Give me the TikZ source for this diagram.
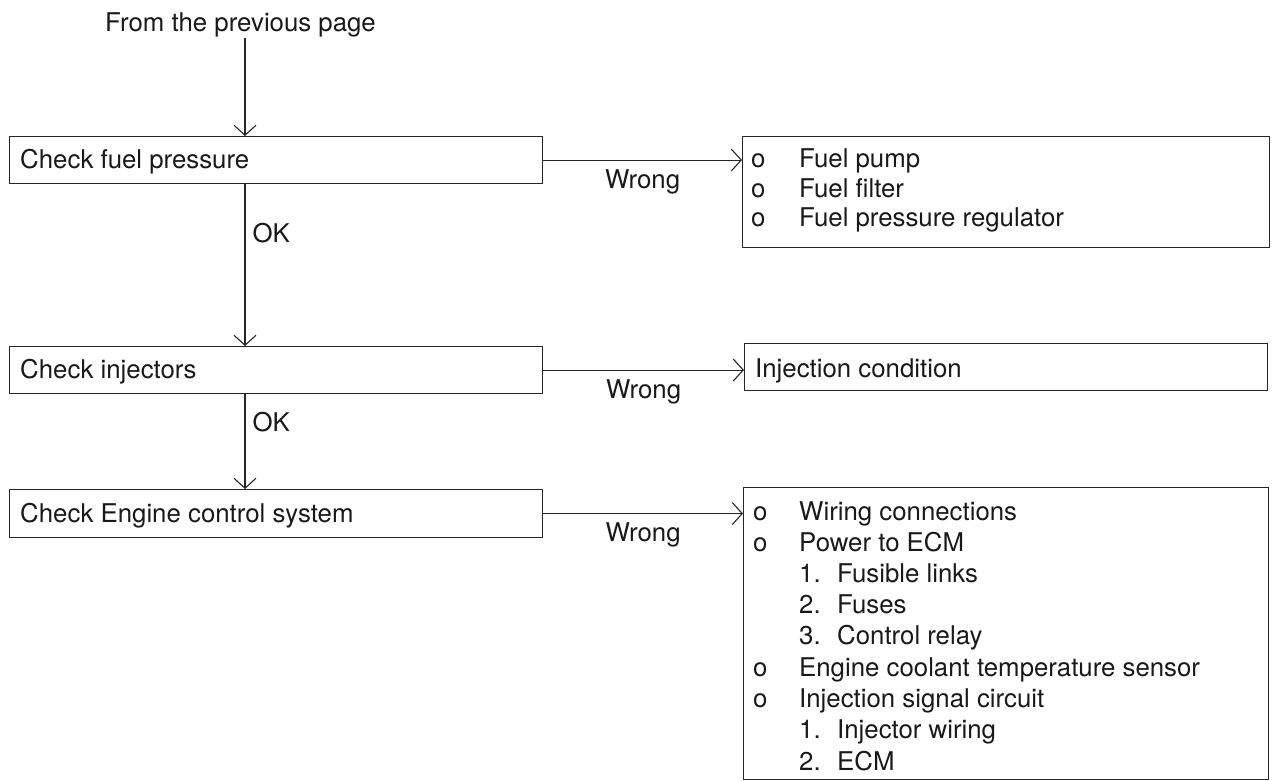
\documentclass[tikz,border=0pt]{standalone}
\usepackage{fontspec}
\setmainfont{TeX Gyre Heros}
\usetikzlibrary{arrows.meta}
\begin{document}
\begin{tikzpicture}[x=1pt,y=-1pt,
  every node/.style={font=\fontsize{25.8}{31}\selectfont, inner sep=0pt, text=black!90},
  box/.style={draw=black!85, line width=1.1pt, anchor=north west},
  arr/.style={draw=black!85, line width=1.1pt, -{Straight Barb[length=10pt,width=22pt,line width=1.1pt]}},
  lbl/.style={anchor=base west},
  oklbl/.style={pos=0.3, anchor=west, xshift=7pt},
  wronglbl/.style={pos=0.5, anchor=base, yshift=-28pt},
]
\useasboundingbox (0,0) rectangle (1276,781);

% left boxes
\node[box, minimum width=533pt, minimum height=47pt] (b1) at (9,136) {};
\node[box, minimum width=533pt, minimum height=47pt] (b2) at (9,346) {};
\node[box, minimum width=533pt, minimum height=48pt] (b3) at (9,489) {};
% right boxes
\node[box, minimum width=527pt, minimum height=111pt] (r1) at (742,136) {};
\node[box, minimum width=523pt, minimum height=47pt] (r2) at (744,343) {};
\node[box, minimum width=525pt, minimum height=292pt] (r3) at (743,487) {};

% texts
\node[lbl] (from) at (105,32) {From the previous page};
\node[lbl] (t1) at (20,168) {Check fuel pressure};
\node[lbl] (t2) at (20,378) {Check injectors};
\node[lbl] (t3) at (20,522) {Check Engine control system};

\node[lbl] (r1a) at (751,167) {\makebox[48pt][l]{o}Fuel pump};
\node[lbl] (r1b) at (751,197) {\makebox[48pt][l]{o}Fuel filter};
\node[lbl] (r1c) at (751,226) {\makebox[48pt][l]{o}Fuel pressure regulator};

\node[lbl] (r2a) at (755,377) {Injection condition};

\node[lbl] (r3a) at (753,520) {\makebox[46pt][l]{o}Wiring connections};
\node[lbl] (r3b) at (753,551) {\makebox[46pt][l]{o}Power to ECM};
\node[lbl] (r3c) at (799,582) {\makebox[38pt][l]{1.}Fusible links};
\node[lbl] (r3d) at (799,613) {\makebox[38pt][l]{2.}Fuses};
\node[lbl] (r3e) at (799,644) {\makebox[38pt][l]{3.}Control relay};
\node[lbl] (r3f) at (753,676) {\makebox[46pt][l]{o}Engine coolant temperature sensor};
\node[lbl] (r3g) at (753,707) {\makebox[46pt][l]{o}Injection signal circuit};
\node[lbl] (r3h) at (799,738) {\makebox[38pt][l]{1.}Injector wiring};
\node[lbl] (r3i) at (799,770) {\makebox[38pt][l]{2.}ECM};

% connectors
\coordinate (ax) at (245,0);
\draw[arr] (from.south -| ax) -- (b1.north -| ax);
\draw[arr] (b1.south -| ax) -- node[oklbl] {OK} (b2.north -| ax);
\draw[arr] (b2.south -| ax) -- node[oklbl] {OK} (b3.north -| ax);

\draw[arr] (b1.east) -- node[wronglbl] {Wrong} (r1.west |- b1.east);
\draw[arr] (b2.east) -- node[wronglbl] {Wrong} (r2.west |- b2.east);
\draw[arr] (b3.east) -- node[wronglbl] {Wrong} (r3.west |- b3.east);
\end{tikzpicture}
\end{document}
